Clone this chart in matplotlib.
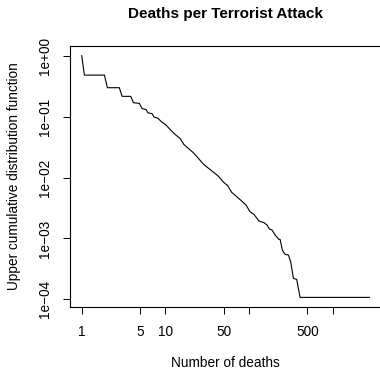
import matplotlib
matplotlib.use('Agg')
import matplotlib.pyplot as plt

plt.rcParams['font.family'] = ['Liberation Sans', 'DejaVu Sans']

# muertes por ataque (valores ordenados) y su función de distribución acumulada superior
muertes = [1, 1.076, 1.87, 2.03, 2.82, 3.04, 3.86, 4.15, 4.9, 5.27, 5.88, 6.21, 6.94,
           7.33, 8.19, 8.97, 10.2, 11.4, 13.07, 15.0, 16.75, 18.9, 21.7, 24.9, 28.5,
           31.8, 36.9, 42.8, 49.5, 55.7, 62.3, 71.5, 82.0, 92.4, 103, 115, 132, 152,
           166, 176, 189, 206, 228, 236, 251, 271, 297, 316, 341, 373, 409, 2761]
ccdf = [1.0, 0.48, 0.48, 0.298, 0.298, 0.215, 0.215, 0.169, 0.165, 0.135, 0.131,
        0.115, 0.112, 0.0984, 0.0935, 0.0824, 0.0727, 0.0617, 0.051, 0.0439, 0.0346,
        0.030, 0.0255, 0.0206, 0.0166, 0.0147, 0.0125, 0.0106, 0.00843, 0.00733,
        0.0057, 0.00484, 0.00411, 0.00353, 0.00274, 0.00248, 0.00193, 0.00181,
        0.00164, 0.00143, 0.00137, 0.00114, 0.000964, 0.000964, 0.000644, 0.000547,
        0.000533, 0.000414, 0.000221, 0.000212, 0.0001076, 0.0001076]

xticks = [1, 5, 10, 50, 100, 500, 1000]
xetiquetas = ['1', '5', '10', '50', '', '500', '']
yticks = [1e-4, 1e-3, 1e-2, 1e-1, 1]
yetiquetas = ['1e\u221204', '1e\u221203', '1e\u221202', '1e\u221201', '1e+00']

fig = plt.figure(figsize=(3.8, 3.71), dpi=100)
ax = fig.add_axes([70/380, 1 - 307/371, 311/380, 261/371])

ax.plot(muertes, ccdf, color='black', linewidth=0.8)
ax.set_xscale('log')
ax.set_yscale('log')
ax.set_xlim(10**-0.14, 10**3.58)
ax.set_ylim(10**-4.126, 10**0.159)

ax.set_xticks(xticks)
ax.set_xticklabels(xetiquetas)
ax.set_yticks(yticks)
ax.set_yticklabels(yetiquetas, rotation=90, va='center')
ax.minorticks_off()
ax.tick_params(length=5, width=0.7, labelsize=9.8, pad=8)

for s in ax.spines.values():
    s.set_linewidth(0.8)

ax.set_title('Deaths per Terrorist Attack', fontsize=11, fontweight='bold', pad=20)
ax.set_xlabel('Number of deaths', fontsize=9.8, labelpad=12.5)
ax.set_ylabel('Upper cumulative distribution function', fontsize=9.8, labelpad=12)

fig.savefig('out.png', dpi=100)
